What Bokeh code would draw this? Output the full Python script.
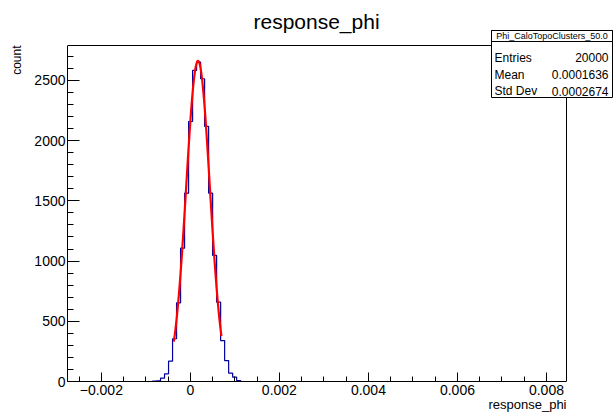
import numpy as np
from bokeh.plotting import figure
from bokeh.models import (Range1d, FixedTicker, CustomJSTickFormatter, Label,
                          BoxAnnotation, Title)
from bokeh.embed import file_html
from bokeh.resources import INLINE

# ---------------- data ----------------
hist_title = "response_phi"
x_label = "response_phi"
y_label = "count"
stats_name = "Phi_CaloTopoClusters_50.0"
stats_rows = ["Entries", "Mean", "Std Dev"]
stats_vals = ["20000", "0.0001636", "0.0002674"]

bin_start = -0.00085
bin_width = 0.00009
bin_counts = [3, 6, 28, 64, 169, 355, 653, 1107, 1564, 2159, 2583, 2652,
              2514, 2118, 1564, 1047, 659, 340, 174, 69, 36, 8]

# Gaussian fit (TF1 "gaus") parameters and fit window
fit_const = 2662.0
fit_mean = 0.000172
fit_sigma = 0.000266
fit_lo = -0.000371
fit_hi = 0.000698

x_min, x_max = -0.00276, 0.00845     # ROOT frame x extent
y_min, y_max = 0.0, 2790.0           # ROOT frame y extent

xtick_values = [-0.002, 0.0, 0.002, 0.004, 0.006, 0.008]
xtick_labels = ["\u22120.002", "0", "0.002", "0.004", "0.006", "0.008"]
xminor_values = [-0.0025, -0.0015, -0.001, -0.0005, 0.0005, 0.001, 0.0015,
                 0.0025, 0.003, 0.0035, 0.0045, 0.005, 0.0055, 0.0065,
                 0.007, 0.0075]
ytick_values = [0, 500, 1000, 1500, 2000, 2500]
yminor_values = [v for v in range(0, 2800, 100) if v % 500 != 0]

# ---------------- layout (page pixels; bokeh page has no body margin) ----
W, H = 613, 412
FL, FR, FT, FB = 67, 566, 45, 381       # ROOT frame edges
BK_TOP, BK_RIGHT = 0, W                 # bokeh frame extended to top/right

sx_per = (FR - FL) / (x_max - x_min)
sy_per = (FB - FT) / (y_max - y_min)
bk_x_end = x_max + (BK_RIGHT - FR) / sx_per
bk_y_end = y_max + (FT - BK_TOP) / sy_per


def dx(px):
    return x_min + (px - FL) / sx_per


def dy(py):
    return y_min + (FB - py) / sy_per


FONT = "Liberation Sans"

p = figure(width=W, height=H, output_backend="svg", toolbar_location=None,
           title=None,
           x_range=Range1d(x_min, bk_x_end), y_range=Range1d(y_min, bk_y_end),
           min_border_left=FL, min_border_right=0,
           min_border_top=0, min_border_bottom=H - FB)
p.xgrid.visible = False
p.ygrid.visible = False
p.outline_line_color = None
p.background_fill_color = "white"
p.border_fill_color = "white"

# axes
p.xaxis.ticker = FixedTicker(ticks=xtick_values, minor_ticks=xminor_values)
p.xaxis.formatter = CustomJSTickFormatter(
    args=dict(vals=xtick_values, labs=xtick_labels),
    code="""
    let best = 0, bd = 1e9;
    for (let i = 0; i < vals.length; i++) {
        const d = Math.abs(vals[i] - tick);
        if (d < bd) { bd = d; best = i; }
    }
    return labs[best];
    """)
p.yaxis.ticker = FixedTicker(ticks=ytick_values, minor_ticks=yminor_values)
p.xaxis.bounds = (x_min, x_max)
p.yaxis.bounds = (y_min, y_max)

for ax in (p.xaxis, p.yaxis):
    ax.axis_line_color = "black"
    ax.major_tick_line_color = "black"
    ax.minor_tick_line_color = "black"
    ax.major_tick_out = 0
    ax.minor_tick_out = 0
    ax.major_label_text_font = FONT
    ax.major_label_text_font_size = "14px"
    ax.major_label_text_color = "black"

p.xaxis.major_label_standoff = 3
p.yaxis.major_label_standoff = 2
p.xaxis.major_tick_in = 9
p.xaxis.minor_tick_in = 5
p.yaxis.major_tick_in = 12
p.yaxis.minor_tick_in = 6

# ROOT frame: top and right edges
p.line([x_min, x_max, x_max], [y_max, y_max, y_min], line_color="black",
       line_width=1)

# histogram outline (step)
counts = np.array(bin_counts, dtype=float)
edges = bin_start + bin_width * np.arange(len(counts) + 1)
xs = np.repeat(edges, 2)
ys = np.concatenate([[0.0], np.repeat(counts, 2), [0.0]])
p.line(xs, ys, line_color="#0000a0", line_width=1.2)

# gaussian fit curve
xf = np.linspace(fit_lo, fit_hi, 200)
yf = fit_const * np.exp(-0.5 * ((xf - fit_mean) / fit_sigma) ** 2)
p.line(xf, yf, line_color="#ff0000", line_width=2.2)

# histogram title (inside the extended frame area)
p.add_layout(Label(x=dx(316), y=dy(21), text=hist_title, text_font=FONT,
                   text_font_size="21px", text_align="center",
                   text_baseline="middle", text_color="black"))


def make_title(text, size, align, offset, standoff, valign):
    try:
        return Title(text=text, text_font=FONT, text_font_size=size,
                     text_font_style="normal", text_color="black",
                     align=align, offset=offset, standoff=standoff,
                     vertical_align=valign)
    except ValueError:
        return Title(text=text, text_font=FONT, text_font_size=size,
                     text_font_style="normal", text_color="black",
                     align=align, offset=offset, standoff=0,
                     vertical_align=valign)


# axis titles (ROOT style: at the far ends of the axes)
p.add_layout(make_title(x_label, "13px", "right", BK_RIGHT - FR, -6,
                        "bottom"), "below")
p.add_layout(make_title(y_label, "12px", "right", FT - BK_TOP, 15,
                        "bottom"), "left")

# stats box
BL, BR, BT, BB, BH = 491, 612, 30, 97, 41
p.add_layout(BoxAnnotation(left=dx(BL), right=dx(BR), top=dy(BT),
                           bottom=dy(BB), fill_color="white", fill_alpha=1.0,
                           line_color="black", line_width=1, line_alpha=1.0))
p.add_layout(BoxAnnotation(left=dx(BL), right=dx(BR), top=dy(BT),
                           bottom=dy(BH), fill_color="white", fill_alpha=1.0,
                           line_color="black", line_width=1, line_alpha=1.0))
p.add_layout(Label(x=dx((BL + BR) / 2), y=dy(35.5), text=stats_name,
                   text_font=FONT, text_font_size="9px", text_align="center",
                   text_baseline="middle", text_color="black"))
row_y = [57, 74, 90.5]
for name, val, ry in zip(stats_rows, stats_vals, row_y):
    p.add_layout(Label(x=dx(494), y=dy(ry), text=name, text_font=FONT,
                       text_font_size="12px", text_align="left",
                       text_baseline="middle", text_color="black"))
    p.add_layout(Label(x=dx(608), y=dy(ry), text=val, text_font=FONT,
                       text_font_size="12px", text_align="right",
                       text_baseline="middle", text_color="black"))

open("out.html", "w").write(file_html(p, INLINE))
